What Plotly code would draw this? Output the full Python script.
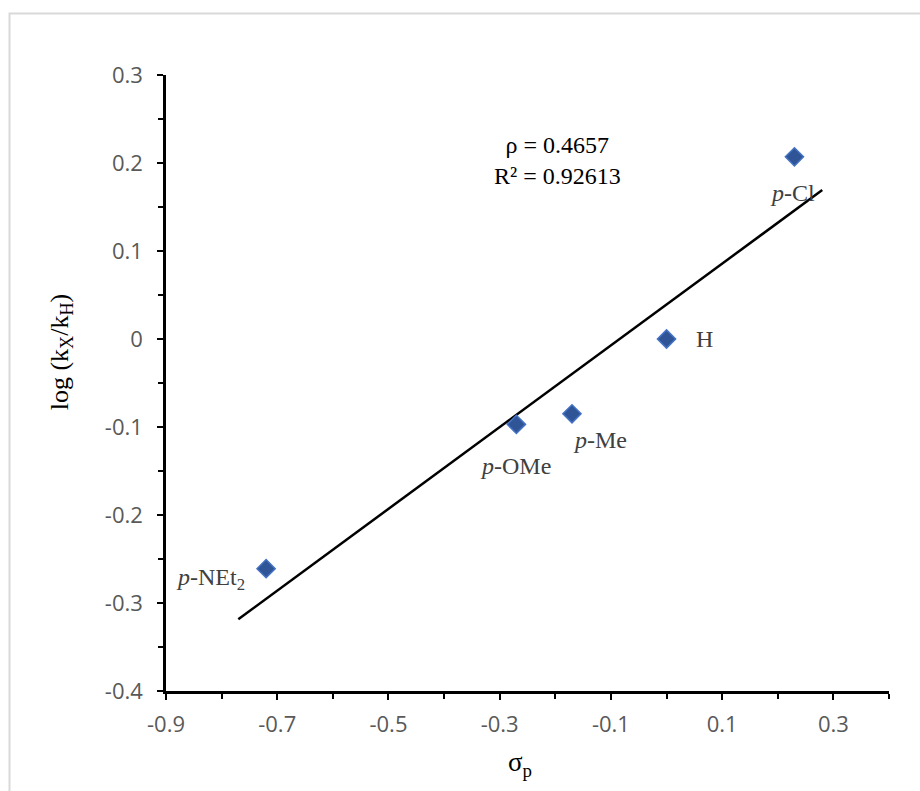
import numpy as np
import plotly.graph_objects as go

# Hammett data: substituent constants and relative rates
substituents = ["<i>p</i>-Cl", "H", "<i>p</i>-Me", "<i>p</i>-OMe", "<i>p</i>-NEt<sub>2</sub>"]
sigma_p = [0.23, 0.0, -0.17, -0.27, -0.72]
log_rel = [0.207, 0.0, -0.085, -0.097, -0.261]

# label offsets (pixels) relative to each point
label_dx = [-2, 38, 28, -1, -56]
label_dy = [-36, 0, -26, -42, -10]

x_ticks = [-0.9, -0.7, -0.5, -0.3, -0.1, 0.1, 0.3]
x_ticktext = ["-0.9", "-0.7", "-0.5", "-0.3", "-0.1", "0.1", "0.3"]
y_ticks = [0.3, 0.2, 0.1, 0.0, -0.1, -0.2, -0.3, -0.4]
y_ticktext = ["0.3", "0.2", "0.1", "0", "-0.1", "-0.2", "-0.3", "-0.4"]

# least-squares fit, extended 0.05 beyond the data on each side
slope, intercept = np.polyfit(sigma_p, log_rel, 1)
fit_x = np.array([min(sigma_p) - 0.05, max(sigma_p) + 0.05])
fit_y = slope * fit_x + intercept

fig = go.Figure()
fig.add_trace(go.Scatter(
    x=fit_x, y=fit_y, mode="lines",
    line=dict(color="black", width=2.5), hoverinfo="skip", showlegend=False,
))
fig.add_trace(go.Scatter(
    x=sigma_p, y=log_rel, mode="markers",
    marker=dict(symbol="diamond", size=14, color="#2F5597",
                line=dict(color="#4472C4", width=1.5)),
    showlegend=False,
))

serif = "Liberation Serif, Times New Roman, serif"
annotations = []
for name, xv, yv, dx, dy in zip(substituents, sigma_p, log_rel, label_dx, label_dy):
    annotations.append(dict(
        x=xv, y=yv, xref="x", yref="y", text=name, showarrow=False,
        xshift=dx, yshift=dy, font=dict(family=serif, size=24, color="#404040"),
    ))

annotations.append(dict(
    x=-0.1955, y=0.2023, xref="x", yref="y",
    text="ρ = 0.4657<br>R² = 0.92613", showarrow=False,
    font=dict(family=serif, size=24, color="black"), align="center",
))
# axis titles
annotations.append(dict(
    x=0.49, y=0, xref="paper", yref="paper", yanchor="middle",
    yshift=-73, text="σ<sub>p</sub>", showarrow=False,
    font=dict(family=serif, size=27, color="black"),
))
annotations.append(dict(
    x=-0.17, y=0.55, xref="paper", yref="paper", textangle=-90,
    text="log (k<sub>X</sub>/k<sub>H</sub>)", showarrow=False,
    font=dict(family=serif, size=26, color="black"),
))

tick_font = dict(family="Open Sans, sans-serif", size=22, color="#595959")

fig.update_layout(
    width=920, height=791,
    margin=dict(l=166, r=31, t=75, b=100),
    paper_bgcolor="white", plot_bgcolor="white",
    annotations=annotations,
    shapes=[dict(
        type="rect", xref="paper", yref="paper",
        x0=(9.5 - 166) / 723, x1=(960 - 166) / 723,
        y0=(691 - 830) / 616, y1=(691 - 13.5) / 616,
        line=dict(color="#d9d9d9", width=2), layer="below",
    )],
    xaxis=dict(
        range=[-0.9, 0.4], tickvals=x_ticks, ticktext=x_ticktext,
        showgrid=False, zeroline=False, showline=True, linecolor="black", linewidth=2.5,
        ticks="outside", ticklen=6, tickwidth=2, tickcolor="black",
        minor=dict(tickvals=[-0.8, -0.6, -0.4, -0.2, 0.0, 0.2, 0.4], ticks="outside",
                   ticklen=5, tickwidth=2, tickcolor="black", showgrid=False),
        tickfont=tick_font, ticklabelstandoff=6,
    ),
    yaxis=dict(
        range=[-0.4, 0.3], tickvals=y_ticks, ticktext=y_ticktext,
        showgrid=False, zeroline=False, showline=True, linecolor="black", linewidth=2.5,
        ticks="outside", ticklen=6, tickwidth=2, tickcolor="black",
        minor=dict(tickvals=[0.25, 0.15, 0.05, -0.05, -0.15, -0.25, -0.35], ticks="outside",
                   ticklen=5, tickwidth=2, tickcolor="black", showgrid=False),
        tickfont=tick_font, ticklabelstandoff=10,
    ),
)

fig.write_html("out.html")
